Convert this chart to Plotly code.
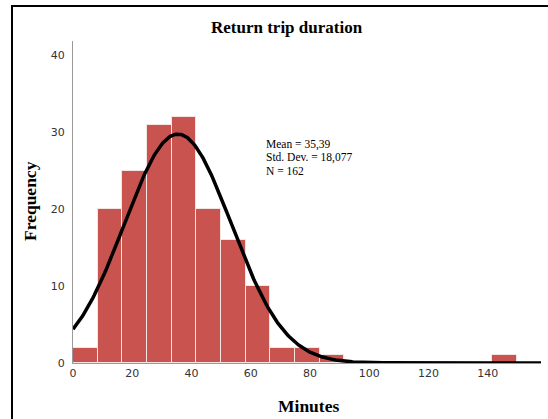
import numpy as np
import plotly.graph_objects as go

# ---- data ----
bin_width = 8.33
bin_starts = [0, 1, 2, 3, 4, 5, 6, 7, 8, 9, 10, 17]  # bin index
counts = [2, 20, 25, 31, 32, 20, 16, 10, 2, 2, 1, 1]
mean_val = 35.39
std_val = 18.077
n_val = 162
x_ticks = [0, 20, 40, 60, 80, 100, 120, 140]
y_ticks = [0, 10, 20, 30, 40]
stat_lines = [
    f"Mean = {str(mean_val).replace('.', ',')}",
    f"Std. Dev. = {str(std_val).replace('.', ',')}",
    f"N = {n_val}",
]

centers = [(b + 0.5) * bin_width for b in bin_starts]

xc = np.linspace(0, 158, 400)
yc = n_val * bin_width / (std_val * np.sqrt(2 * np.pi)) * np.exp(-0.5 * ((xc - mean_val) / std_val) ** 2)

fig = go.Figure()
fig.add_trace(go.Bar(
    x=centers, y=counts, width=bin_width,
    marker=dict(color="#C9534F", line=dict(color="#F4E4E2", width=1)),
    showlegend=False, hoverinfo="skip",
))
fig.add_trace(go.Scatter(
    x=xc, y=yc, mode="lines",
    line=dict(color="black", width=3.5),
    showlegend=False, hoverinfo="skip",
))

L, R, T, B = 73, 7, 41, 56
W, H = 548, 419
pw, ph = W - L - R, H - T - B

def px_to_paper_x(px):
    return (px - L) / pw

def px_to_paper_y(py):
    return (H - B - py) / ph

annotations = [
    dict(text="<b>Return trip duration</b>", xref="paper", yref="paper",
         x=px_to_paper_x(287), y=px_to_paper_y(27), showarrow=False,
         xanchor="center", yanchor="middle",
         font=dict(family="Liberation Serif", size=17, color="black")),
    dict(text="<b>Minutes</b>", xref="paper", yref="paper",
         x=px_to_paper_x(308), y=px_to_paper_y(406), showarrow=False,
         xanchor="center", yanchor="middle",
         font=dict(family="Liberation Serif", size=17.5, color="black")),
    dict(text="<b>Frequency</b>", xref="paper", yref="paper",
         x=px_to_paper_x(30), y=px_to_paper_y(201), showarrow=False,
         xanchor="center", yanchor="middle", textangle=-90,
         font=dict(family="Liberation Serif", size=17.5, color="black")),
]
for i, s in enumerate(stat_lines):
    annotations.append(dict(
        text=s, xref="paper", yref="paper",
        x=px_to_paper_x(264), y=px_to_paper_y(144 + 13.5 * i), showarrow=False,
        xanchor="left", yanchor="middle", align="left",
        font=dict(family="Liberation Serif", size=11.5, color="black")))

fig.update_layout(
    width=W, height=H,
    margin=dict(l=L, r=R, t=T, b=B),
    paper_bgcolor="white", plot_bgcolor="white",
    bargap=0,
    xaxis=dict(
        range=[0, 158], tickvals=x_ticks, ticks="", showgrid=False, zeroline=False,
        showline=True, linecolor="#999999", linewidth=1,
        tickfont=dict(family="DejaVu Sans", size=11, color="#333333"),
    ),
    yaxis=dict(
        range=[0, 41.9], tickvals=y_ticks, ticks="", showgrid=False, zeroline=False,
        showline=True, linecolor="#999999", linewidth=1,
        tickfont=dict(family="DejaVu Sans", size=11, color="#333333"),
        ticklabelstandoff=5,
    ),
    shapes=[dict(
        type="rect", xref="paper", yref="paper",
        x0=px_to_paper_x(12), x1=px_to_paper_x(600),
        y0=px_to_paper_y(460), y1=px_to_paper_y(6),
        line=dict(color="black", width=2), fillcolor="rgba(0,0,0,0)", layer="above",
    )],
    annotations=annotations,
)

fig.write_html("out.html")
